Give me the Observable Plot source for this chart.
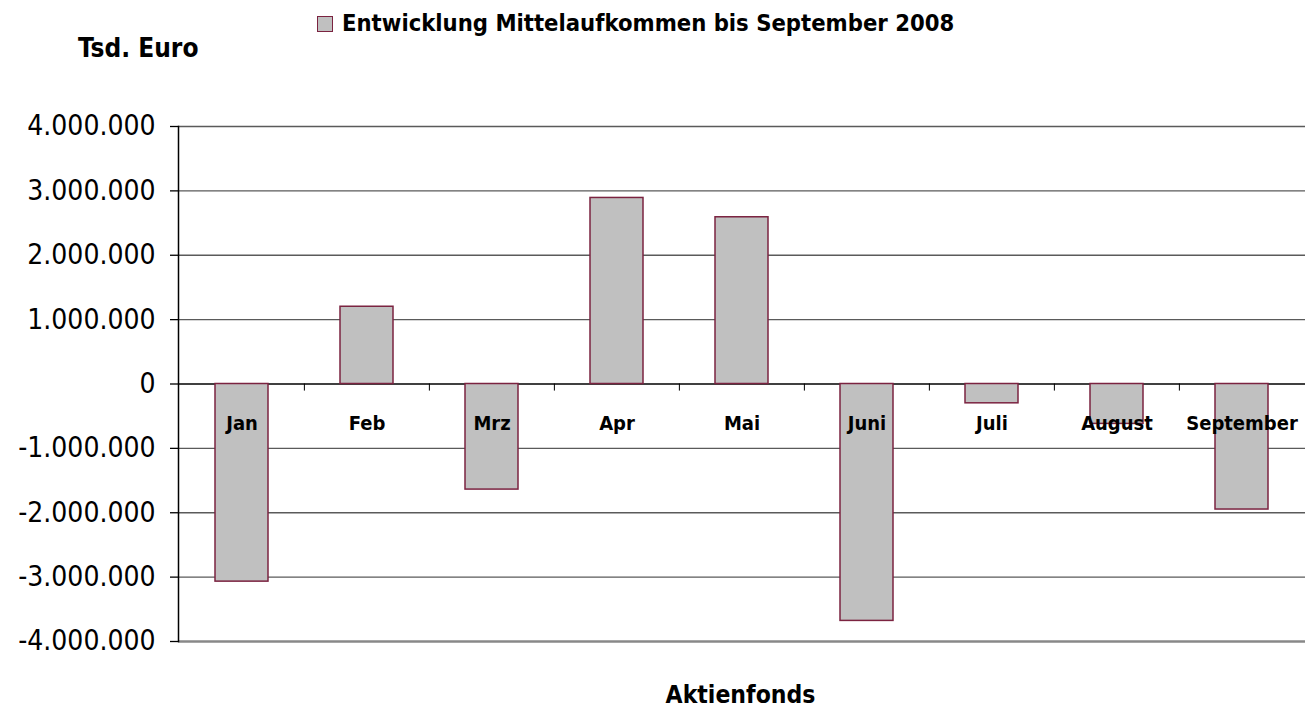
<!DOCTYPE html>
<html>
<head>
<meta charset="utf-8">
<script src="https://cdn.jsdelivr.net/npm/d3@7"></script>
<script src="https://cdn.jsdelivr.net/npm/@observablehq/plot@0.6"></script>
<style>
  html, body { margin: 0; padding: 0; background: #fff; }
  #wrap { position: relative; width: 1305px; height: 710px; overflow: hidden; font-family: "DejaVu Sans Condensed", "DejaVu Sans", sans-serif; }
  .lbl { position: absolute; white-space: nowrap; line-height: 1; color: #000; font-weight: bold; }
  #unit { left: 78px; top: 35px; font-size: 26px; }
  #legend { left: 317px; top: 12px; font-size: 23.6px; display: flex; align-items: center; }
  #legend .sw { display: inline-block; width: 14px; height: 14px; background: #c0c0c0; border: 1.5px solid #7b2340; margin-right: 9px; }
  #xtitle { left: 0; width: 1481px; text-align: center; top: 683px; font-size: 24.5px; }
</style>
</head>
<body>
<div id="wrap">
  <div id="chart"></div>
  <div class="lbl" id="unit"></div>
  <div class="lbl" id="legend"><span class="sw"></span><span id="legendText"></span></div>
  <div class="lbl" id="xtitle"></div>
</div>
<script>
const months = ["Jan", "Feb", "Mrz", "Apr", "Mai", "Juni", "Juli", "August", "September"];
const values = [-3070000, 1200000, -1640000, 2890000, 2590000, -3680000, -300000, -620000, -1950000];
const yTicks = [-4000000, -3000000, -2000000, -1000000, 0, 1000000, 2000000, 3000000, 4000000];
const unitLabel = "Tsd. Euro";
const seriesLabel = "Entwicklung Mittelaufkommen bis September 2008";
const xTitle = "Aktienfonds";

const data = months.map((m, i) => ({month: m, value: values[i]}));

document.getElementById("unit").textContent = unitLabel;
document.getElementById("legendText").textContent = seriesLabel;
document.getElementById("xtitle").textContent = xTitle;

const de = d3.formatLocale({decimal: ",", thousands: ".", grouping: [3], currency: ["", " €"], minus: "-"});
const fmt = de.format(",d");

const W = 1305, H = 710, ML = 178, MR = 0, MT = 126, MB = 69;
const step = (W - ML - MR) / months.length;

const chart = Plot.plot({
  width: W,
  height: H,
  marginLeft: ML,
  marginRight: MR,
  marginTop: MT,
  marginBottom: MB,
  style: {fontFamily: "'DejaVu Sans Condensed', 'DejaVu Sans', sans-serif", color: "#000", background: "#fff"},
  x: {domain: months, paddingInner: 0.58, paddingOuter: 0.29, axis: null},
  y: {domain: [-4000000, 4000000], ticks: yTicks, tickFormat: fmt},
  marks: [
    Plot.ruleY(yTicks.filter(t => t !== 0 && t !== -4000000), {stroke: "#5a5a5a", strokeWidth: 1.3}),
    Plot.ruleY([-4000000], {stroke: "#888", strokeWidth: 2.5}),
    Plot.ruleY([0], {stroke: "#000", strokeWidth: 1.3}),
    Plot.ruleX(months.slice(1), {x: d => d, y1: 0, y2: -110000, dx: -step / 2, stroke: "#000", strokeWidth: 1}),
    Plot.frame({anchor: "left", stroke: "#000", strokeWidth: 1.5}),
    Plot.axisY({ticks: yTicks, tickFormat: fmt, tickSize: 8, tickPadding: 15, fontSize: 28, label: null, stroke: "#000", strokeWidth: 1.3}),
    Plot.barY(data, {x: "month", y: "value", fill: "#c0c0c0", stroke: "#7b2340", strokeWidth: 1.5}),
    Plot.text(months, {x: d => d, y: 0, dy: 40, fontSize: 20, fontWeight: "bold", fill: "#000"})
  ]
});
document.getElementById("chart").appendChild(chart);
</script>
</body>
</html>
